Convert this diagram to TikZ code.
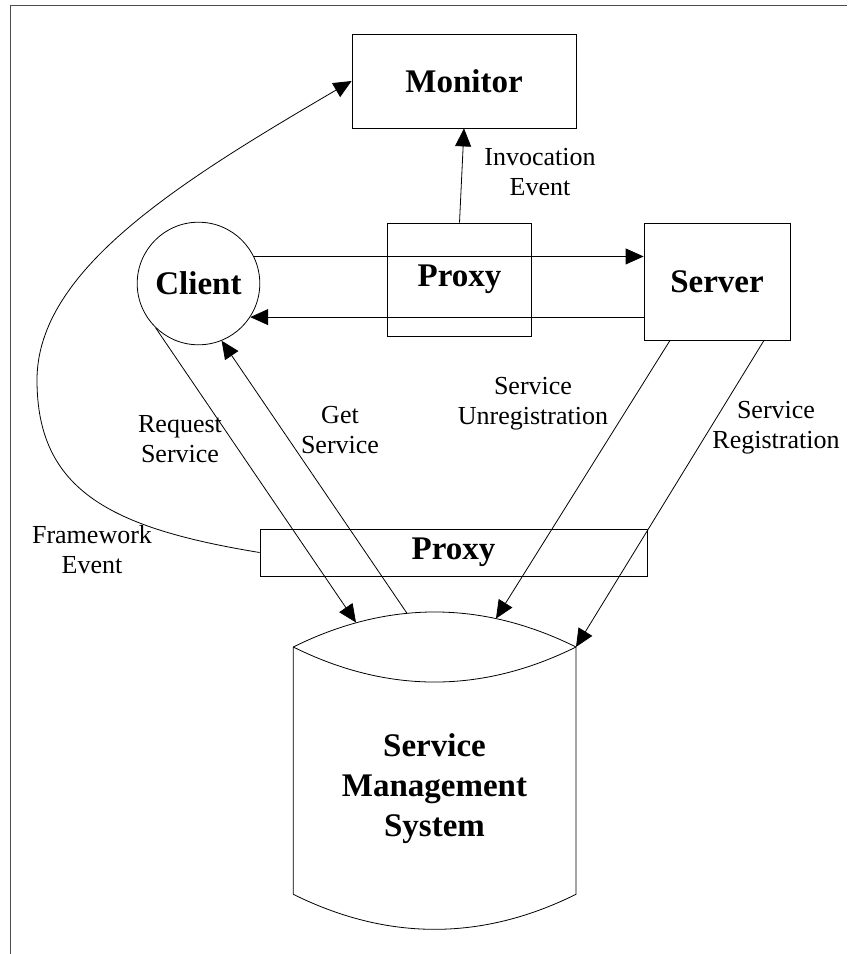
\documentclass[tikz,border=0pt]{standalone}
\usepackage{fontspec}
\setmainfont{Liberation Serif}
\usetikzlibrary{arrows.meta}

\begin{document}
\begin{tikzpicture}[x=1pt,y=-1pt,line width=0.8pt,
    title/.style={font=\fontsize{33}{40}\selectfont\bfseries,align=center,inner sep=0pt},
    box/.style={draw,title},
    lbl/.style={align=center,inner sep=0pt,font=\fontsize{26}{30}\selectfont},
    arr/.style={-{Triangle[length=18pt,width=16pt]}}]
  \useasboundingbox (0,0) rectangle (847,954);
  \draw[line width=1.3pt,black!70] (10.5,954) -- (10.5,5.5) -- (847,5.5);
  \draw
    (464,81) node[box,minimum width=224pt,minimum height=94pt] (monitor){Monitor}
    (459.5,279.5) node[box,minimum width=144pt,minimum height=113pt] (proxyA){Proxy}
    (717,281.5) node[box,minimum width=146pt,minimum height=117pt] (server){Server}
    (198.5,283.5) node[box,circle,minimum size=122.6pt] (client){Client}
    (453.5,552.5) node[box,minimum width=387pt,minimum height=47pt] (proxyB){Proxy};
  % storage cylinder
  \coordinate (dbNW) at (293.3,647);
  \coordinate (dbNE) at (576,647);
  \coordinate (dbSW) at (293.3,894.3);
  \coordinate (dbSE) at (576,894.3);
  \draw (dbNW) .. controls (387.5,600.3) and (481.8,600.3) .. (dbNE) -- (dbSE)
    .. controls (481.8,941) and (387.5,941) .. (dbSW) -- cycle;
  \draw (dbNW) .. controls (387.5,693.7) and (481.8,693.7) .. (dbNE);
  \node[title] (sms) at (434.5,789) {Service\\Management\\System};
  \coordinate (reqend) at (356,622.5);
  \coordinate (getstart) at (407,613.3);
  \coordinate (unregend) at (496,618.5);
  \coordinate (fwbend) at (37,380);
  \begin{scope}[arr]
    \draw (client.26) -- (client.26 -| server.west);
    \draw (client.-33 -| server.west) -- (client.-33);
    \draw (proxyA.north) -- (monitor.south);
    \draw (client.226) -- (reqend);
    \draw (getstart) -- (client.-68);
    \draw ([xshift=-47pt]server.south) -- (unregend);
    \draw ([xshift=47pt]server.south) -- (dbNE);
    \draw (proxyB.west) .. controls (110,528) and (37,490) .. (fwbend)
      .. controls (37,270) and (179,182) .. (monitor.west);
  \end{scope}
  \node[lbl] (invlbl) at (540,172) {Invocation\\Event};
  \node[lbl] (reqlbl) at (180,439) {Request\\Service};
  \node[lbl] (getlbl) at (340,430) {Get\\Service};
  \node[lbl] (unreglbl) at (533,404) {Service\\Unregistration};
  \node[lbl] (reglbl) at (776,428) {Service\\Registration};
  \node[lbl] (fwlbl) at (92,550) {Framework\\Event};
\end{tikzpicture}
\end{document}
